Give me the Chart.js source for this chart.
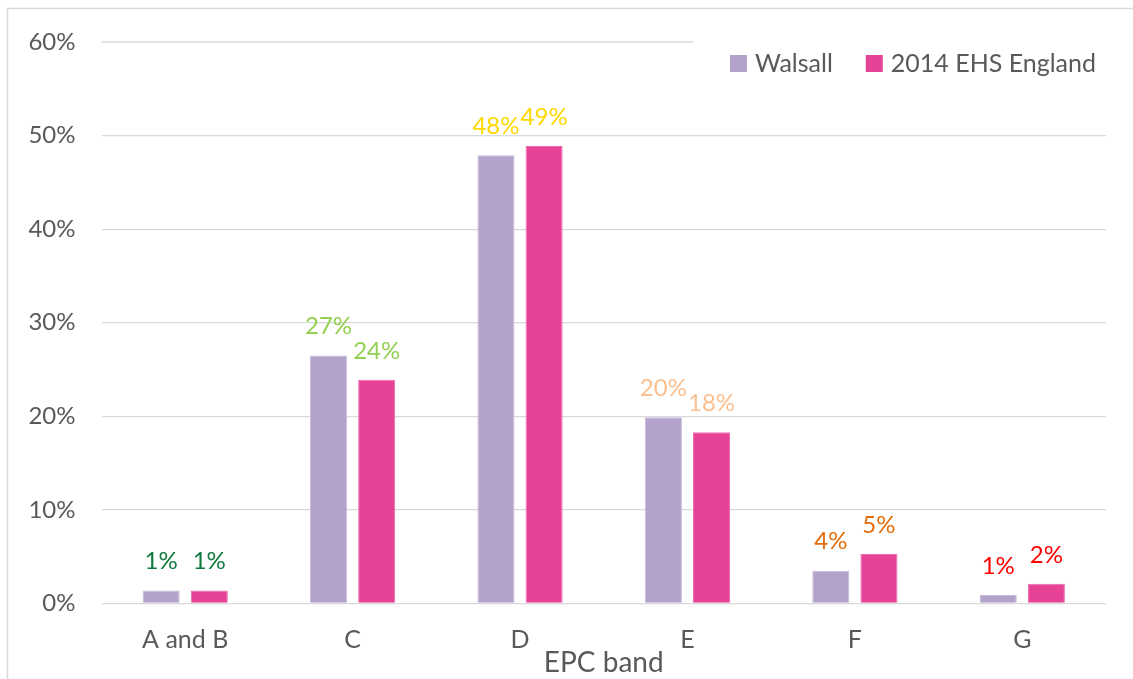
<!DOCTYPE html>
<html>
<head>
<meta charset="utf-8">
<title>EPC band distribution</title>
<script src="https://cdn.jsdelivr.net/npm/chart.js@4.4.1/dist/chart.umd.min.js"></script>
<style>
  html, body { margin: 0; padding: 0; background: #ffffff; }
  #wrap { position: relative; width: 1133px; height: 679px; }
</style>
</head>
<body>
<div id="wrap"><canvas id="chart" width="1133" height="679"></canvas></div>
<script>
// EPC bands and the share of dwellings in each (%)
const bands = ['A and B', 'C', 'D', 'E', 'F', 'G'];
const walsall = [1.4, 26.5, 47.9, 19.9, 3.5, 0.9];
const england = [1.4, 23.9, 48.9, 18.3, 5.3, 2.1];
const seriesNames = ['Walsall', '2014 EHS England'];
const seriesColors = ['#b3a2cc', '#e64397'];
const seriesEdges = ['#c7bade', '#ec6aae'];
// value label colour for each band
const bandColors = ['#0e7a3c', '#92d050', '#ffd800', '#fac090', '#e46c0a', '#ff0000'];
const yTicks = [0, 10, 20, 30, 40, 50, 60];

const FONT = 'Lato, "Liberation Sans", sans-serif';
const TEXT = '#595959';
const GRID = '#d9d9d9';

// outer frame of the chart
const framePlugin = {
  id: 'frame',
  beforeDraw(chart) {
    const c = chart.ctx;
    c.save();
    c.strokeStyle = GRID;
    c.lineWidth = 1.5;
    c.strokeRect(7.5, 8.5, 1300, 800);
    c.restore();
  }
};

// top gridline stops short of the legend
const topLinePlugin = {
  id: 'topLine',
  beforeDatasetsDraw(chart) {
    const y = chart.scales.y.getPixelForValue(60);
    const c = chart.ctx;
    c.save();
    c.strokeStyle = GRID;
    c.lineWidth = 1.3;
    c.beginPath();
    c.moveTo(chart.chartArea.left, y);
    c.lineTo(693, y);
    c.stroke();
    c.restore();
  }
};

// percentage labels above each bar
const valueLabels = {
  id: 'valueLabels',
  afterDatasetsDraw(chart) {
    const c = chart.ctx;
    c.save();
    c.font = '24px ' + FONT;
    c.textAlign = 'center';
    c.textBaseline = 'middle';
    chart.data.datasets.forEach((ds, di) => {
      chart.getDatasetMeta(di).data.forEach((bar, i) => {
        c.fillStyle = bandColors[i];
        c.fillText(Math.round(ds.data[i]) + '%', bar.x, bar.y - 29);
      });
    });
    c.restore();
  }
};

// legend inside the plot, top right
const legendPlugin = {
  id: 'insideLegend',
  afterDraw(chart) {
    const c = chart.ctx;
    c.save();
    c.font = '25px ' + FONT;
    c.textBaseline = 'middle';
    const box = 17, gap = 8, itemGap = 33;
    const yMid = 63.5;
    let x = chart.chartArea.right - 10;
    const items = chart.data.datasets.map((ds, i) => ({
      label: ds.label, color: ds.backgroundColor, w: c.measureText(ds.label).width
    }));
    for (let i = items.length - 1; i >= 0; i--) {
      const it = items[i];
      const textX = x - it.w;
      const boxX = textX - gap - box;
      c.fillStyle = it.color;
      c.fillRect(boxX, yMid - box / 2, box, box);
      c.fillStyle = TEXT;
      c.textAlign = 'left';
      c.fillText(it.label, textX, yMid);
      x = boxX - itemGap;
    }
    c.restore();
  }
};

new Chart(document.getElementById('chart'), {
  type: 'bar',
  data: {
    labels: bands,
    datasets: [
      { label: seriesNames[0], data: walsall, backgroundColor: seriesColors[0], borderColor: seriesEdges[0], borderWidth: 1 },
      { label: seriesNames[1], data: england, backgroundColor: seriesColors[1], borderColor: seriesEdges[1], borderWidth: 1 }
    ]
  },
  options: {
    responsive: false,
    animation: false,
    devicePixelRatio: 1,
    layout: { padding: { left: 27, right: 27, top: 42, bottom: 0 } },
    datasets: { bar: { categoryPercentage: 0.575, barPercentage: 0.77 } },
    plugins: {
      legend: { display: false },
      tooltip: { enabled: false },
      title: { display: false }
    },
    scales: {
      x: {
        grid: { display: false, drawTicks: false },
        border: { display: false },
        ticks: { color: TEXT, font: { family: FONT, size: 25, lineHeight: 1 }, padding: 24 },
        title: {
          display: true, text: 'EPC band', color: TEXT,
          font: { family: FONT, size: 28, lineHeight: 1 },
          padding: { top: 0, bottom: 2 }
        },
        afterFit(scale) { scale.height = 75.5; }
      },
      y: {
        min: 0, max: 60,
        afterBuildTicks(scale) { scale.ticks = yTicks.map(v => ({ value: v })); },
        grid: {
          drawTicks: false,
          lineWidth: 1.3,
          color: ctx => (ctx.tick && ctx.tick.value === 60 ? 'rgba(0,0,0,0)' : GRID)
        },
        border: { display: false },
        ticks: {
          color: TEXT, font: { family: FONT, size: 24 }, padding: 26,
          callback: v => v + '%'
        },
        afterFit(scale) { scale.width = 74.5; }
      }
    }
  },
  plugins: [framePlugin, topLinePlugin, valueLabels, legendPlugin]
});
</script>
</body>
</html>
